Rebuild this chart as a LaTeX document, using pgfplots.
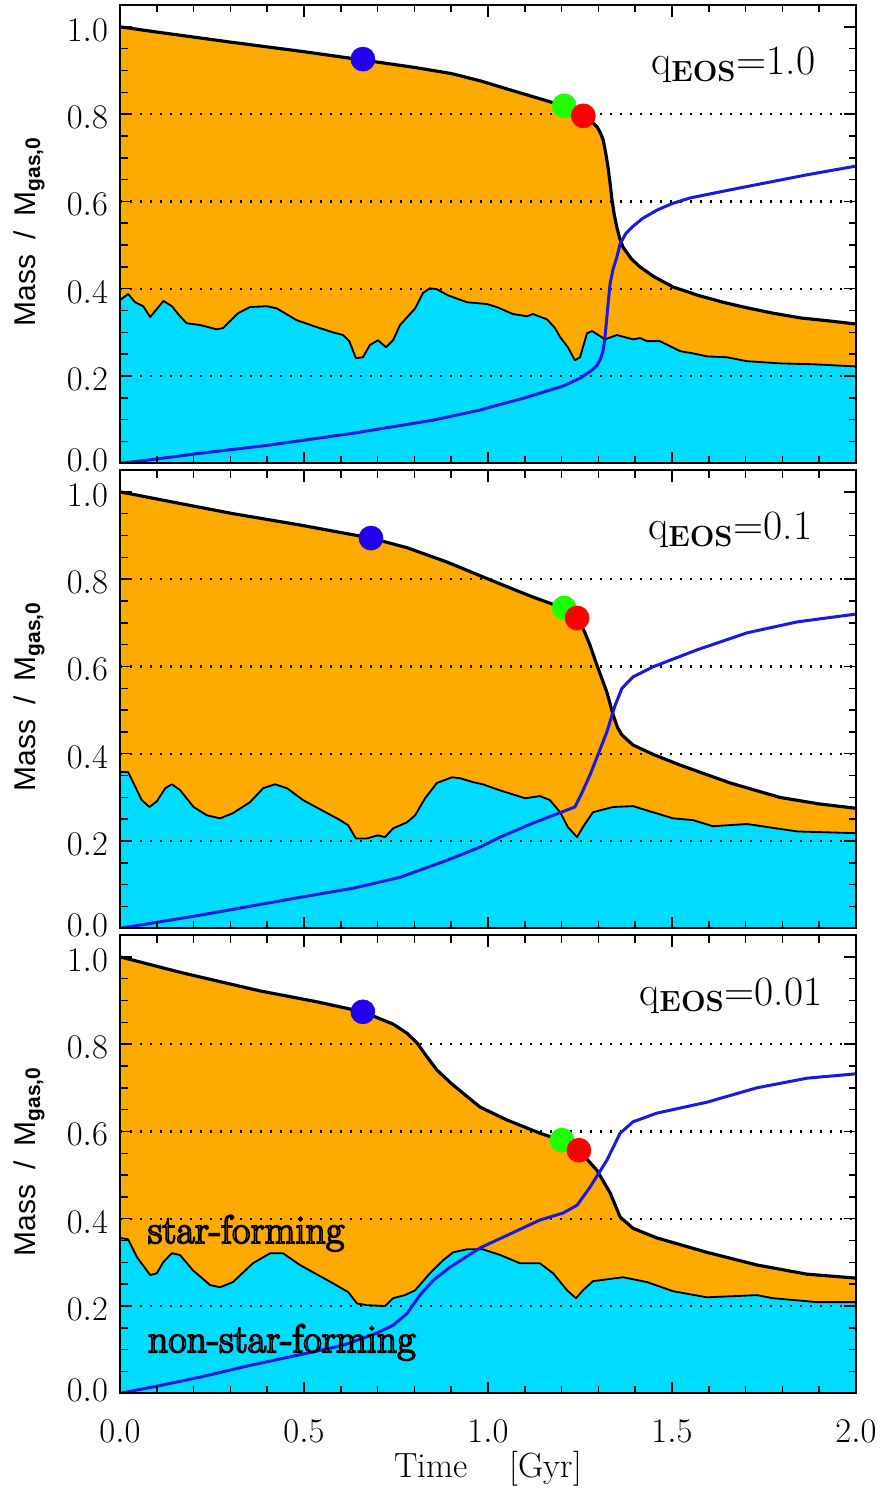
\documentclass[border=0pt]{standalone}
\usepackage{fontspec}
\setsansfont{Liberation Sans}
\usepackage{pgfplots}
\usepackage{pgfplotstable}
\pgfplotsset{compat=1.18}
\definecolor{gasorange}{RGB}{255,170,0}
\definecolor{nsfcyan}{RGB}{0,220,255}
\definecolor{starblue}{RGB}{25,25,230}
\definecolor{dotblue}{RGB}{35,0,235}
\definecolor{dotgreen}{RGB}{30,255,0}
\definecolor{dotred}{RGB}{255,0,0}

% ---------- panel 1 (q_EOS = 1.0)
\pgfplotstableread[row sep=\\]{t m\\
0 1.0\\ 0.1 0.988\\ 0.3 0.965\\ 0.5 0.943\\ 0.66 0.924\\ 0.8 0.907\\ 0.9 0.893\\ 0.98 0.876\\ 1.07 0.853\\ 1.17 0.828\\ 1.207 0.816\\ 1.259 0.795\\ 1.28 0.784\\ 1.296 0.771\\ 1.305 0.758\\ 1.313 0.741\\ 1.32 0.71\\ 1.326 0.679\\ 1.332 0.64\\ 1.337 0.603\\ 1.343 0.57\\ 1.35 0.541\\ 1.358 0.515\\ 1.367 0.495\\ 1.39 0.468\\ 1.413 0.45\\ 1.45 0.428\\ 1.503 0.404\\ 1.57 0.385\\ 1.639 0.369\\ 1.70 0.357\\ 1.774 0.344\\ 1.85 0.333\\ 1.93 0.326\\ 2.0 0.319\\
}\gasA
\pgfplotstableread[row sep=\\]{t m\\
0 0.374\\ 0.022 0.388\\ 0.041 0.369\\ 0.063 0.36\\ 0.082 0.335\\ 0.118 0.372\\ 0.141 0.36\\ 0.163 0.337\\ 0.181 0.321\\ 0.217 0.317\\ 0.263 0.307\\ 0.28 0.31\\ 0.321 0.344\\ 0.353 0.358\\ 0.399 0.36\\ 0.426 0.355\\ 0.48 0.328\\ 0.535 0.312\\ 0.579 0.3\\ 0.606 0.294\\ 0.623 0.28\\ 0.641 0.241\\ 0.66 0.243\\ 0.679 0.271\\ 0.701 0.282\\ 0.723 0.266\\ 0.742 0.282\\ 0.761 0.317\\ 0.802 0.355\\ 0.823 0.39\\ 0.842 0.401\\ 0.861 0.399\\ 0.891 0.385\\ 0.943 0.369\\ 0.97 0.367\\ 0.997 0.365\\ 1.024 0.358\\ 1.068 0.342\\ 1.106 0.337\\ 1.122 0.342\\ 1.16 0.33\\ 1.182 0.31\\ 1.196 0.289\\ 1.217 0.266\\ 1.236 0.236\\ 1.25 0.243\\ 1.269 0.298\\ 1.283 0.303\\ 1.318 0.284\\ 1.35 0.294\\ 1.394 0.284\\ 1.413 0.287\\ 1.432 0.28\\ 1.467 0.28\\ 1.522 0.257\\ 1.557 0.252\\ 1.595 0.245\\ 1.649 0.243\\ 1.704 0.234\\ 1.793 0.229\\ 1.883 0.227\\ 2.0 0.222\\
}\nsfA
\pgfplotstableread[row sep=\\]{t m\\
0 0\\ 0.1 0.01\\ 0.217 0.023\\ 0.399 0.041\\ 0.634 0.069\\ 0.851 0.099\\ 0.978 0.122\\ 1.033 0.135\\ 1.096 0.149\\ 1.204 0.177\\ 1.25 0.195\\ 1.28 0.212\\ 1.296 0.224\\ 1.306 0.24\\ 1.313 0.259\\ 1.318 0.29\\ 1.323 0.335\\ 1.328 0.38\\ 1.332 0.413\\ 1.34 0.445\\ 1.35 0.472\\ 1.359 0.503\\ 1.375 0.527\\ 1.394 0.543\\ 1.42 0.561\\ 1.459 0.58\\ 1.5 0.595\\ 1.549 0.608\\ 1.685 0.631\\ 1.867 0.661\\ 2.0 0.681\\
}\starA

% ---------- panel 2 (q_EOS = 0.1)
\pgfplotstableread[row sep=\\]{t m\\
0 1.0\\ 0.171 0.972\\ 0.307 0.95\\ 0.489 0.924\\ 0.682 0.894\\ 0.78 0.872\\ 0.889 0.839\\ 0.978 0.808\\ 1.033 0.789\\ 1.122 0.759\\ 1.207 0.733\\ 1.242 0.711\\ 1.262 0.68\\ 1.277 0.649\\ 1.296 0.603\\ 1.323 0.541\\ 1.34 0.489\\ 1.352 0.46\\ 1.364 0.443\\ 1.394 0.42\\ 1.45 0.398\\ 1.522 0.374\\ 1.658 0.333\\ 1.793 0.30\\ 1.9 0.285\\ 2.0 0.275\\
}\gasB
\pgfplotstableread[row sep=\\]{t m\\
0 0.358\\ 0.022 0.358\\ 0.059 0.294\\ 0.08 0.278\\ 0.1 0.291\\ 0.123 0.321\\ 0.141 0.33\\ 0.163 0.317\\ 0.2 0.278\\ 0.236 0.259\\ 0.272 0.252\\ 0.307 0.264\\ 0.353 0.289\\ 0.389 0.321\\ 0.421 0.33\\ 0.454 0.321\\ 0.497 0.294\\ 0.563 0.264\\ 0.598 0.248\\ 0.62 0.236\\ 0.641 0.206\\ 0.671 0.206\\ 0.701 0.213\\ 0.72 0.209\\ 0.742 0.229\\ 0.78 0.243\\ 0.802 0.259\\ 0.829 0.298\\ 0.861 0.333\\ 0.902 0.346\\ 0.924 0.344\\ 0.959 0.335\\ 0.986 0.33\\ 1.033 0.316\\ 1.101 0.298\\ 1.141 0.303\\ 1.168 0.294\\ 1.196 0.266\\ 1.217 0.232\\ 1.242 0.209\\ 1.258 0.232\\ 1.285 0.266\\ 1.34 0.278\\ 1.394 0.28\\ 1.448 0.266\\ 1.503 0.252\\ 1.557 0.248\\ 1.611 0.234\\ 1.704 0.239\\ 1.84 0.222\\ 2.0 0.218\\
}\nsfB
\pgfplotstableread[row sep=\\]{t m\\
0 0\\ 0.217 0.03\\ 0.489 0.071\\ 0.634 0.092\\ 0.761 0.117\\ 0.889 0.156\\ 0.978 0.186\\ 1.033 0.209\\ 1.122 0.241\\ 1.236 0.278\\ 1.255 0.31\\ 1.277 0.351\\ 1.3 0.40\\ 1.323 0.45\\ 1.345 0.51\\ 1.364 0.55\\ 1.394 0.576\\ 1.448 0.599\\ 1.568 0.638\\ 1.704 0.677\\ 1.84 0.702\\ 2.0 0.72\\
}\starB

% ---------- panel 3 (q_EOS = 0.01)
\pgfplotstableread[row sep=\\]{t m\\
0 1.0\\ 0.171 0.963\\ 0.38 0.922\\ 0.535 0.897\\ 0.66 0.874\\ 0.742 0.846\\ 0.78 0.825\\ 0.807 0.803\\ 0.835 0.77\\ 0.861 0.741\\ 0.9 0.71\\ 0.978 0.656\\ 1.052 0.626\\ 1.141 0.596\\ 1.201 0.579\\ 1.247 0.557\\ 1.296 0.511\\ 1.332 0.459\\ 1.359 0.404\\ 1.394 0.378\\ 1.459 0.356\\ 1.595 0.323\\ 1.731 0.294\\ 1.867 0.273\\ 2.0 0.264\\
}\gasC
\pgfplotstableread[row sep=\\]{t m\\
0 0.356\\ 0.022 0.353\\ 0.046 0.312\\ 0.082 0.271\\ 0.1 0.275\\ 0.117 0.3\\ 0.141 0.321\\ 0.163 0.317\\ 0.198 0.282\\ 0.245 0.248\\ 0.272 0.243\\ 0.307 0.255\\ 0.361 0.298\\ 0.408 0.321\\ 0.443 0.321\\ 0.489 0.294\\ 0.579 0.252\\ 0.62 0.232\\ 0.644 0.206\\ 0.671 0.202\\ 0.72 0.2\\ 0.742 0.218\\ 0.774 0.225\\ 0.802 0.236\\ 0.842 0.275\\ 0.878 0.305\\ 0.905 0.323\\ 0.943 0.33\\ 0.986 0.33\\ 1.033 0.317\\ 1.087 0.298\\ 1.141 0.298\\ 1.177 0.275\\ 1.215 0.236\\ 1.239 0.218\\ 1.258 0.236\\ 1.285 0.257\\ 1.367 0.266\\ 1.432 0.255\\ 1.503 0.234\\ 1.595 0.22\\ 1.731 0.225\\ 1.774 0.218\\ 1.894 0.209\\ 2.0 0.209\\
}\nsfC
\pgfplotstableread[row sep=\\]{t m\\
0 0\\ 0.109 0.018\\ 0.217 0.037\\ 0.353 0.064\\ 0.508 0.092\\ 0.606 0.11\\ 0.698 0.138\\ 0.742 0.156\\ 0.78 0.183\\ 0.815 0.225\\ 0.851 0.259\\ 0.897 0.289\\ 0.978 0.333\\ 1.052 0.362\\ 1.141 0.397\\ 1.204 0.413\\ 1.242 0.431\\ 1.277 0.472\\ 1.323 0.534\\ 1.359 0.596\\ 1.394 0.622\\ 1.459 0.642\\ 1.595 0.667\\ 1.731 0.70\\ 1.867 0.722\\ 2.0 0.732\\
}\starC

\pgfplotsset{panel/.style={
  width=441.6pt, height=275pt, scale only axis,
  anchor=north west,
  xmin=0, xmax=2, ymin=0, ymax=1.05,
  xtick={0,0.5,1,1.5,2}, minor x tick num=4,
  ytick={0,0.2,0.4,0.6,0.8,1.0}, minor y tick num=3,
  yticklabels={\raisebox{7pt}{$0.0$},$0.2$,$0.4$,$0.6$,$0.8$,$1.0$},
  tick align=inside, tick pos=both,
  major tick length=7pt, minor tick length=4.5pt,
  every tick/.style={black, line width=0.9pt},
  axis line style={line width=1.2pt},
  axis on top,
  /pgf/number format/fixed,
  /pgf/number format/fixed zerofill,
  /pgf/number format/precision=1,
  tick label style={font=\fontsize{21}{23}\selectfont},
  yticklabel style={inner sep=0.5pt, xshift=-6.5pt, yshift=-2pt},
  xticklabel style={yshift=-12.5pt},
}}
\pgfplotsset{
  gasfill/.style={fill=gasorange, draw=none, forget plot},
  nsffill/.style={fill=nsfcyan, draw=none, forget plot},
  gasline/.style={black, line width=1.9pt, line join=round},
  nsfline/.style={black, line width=1.1pt, line join=round},
  starline/.style={starblue, line width=1.8pt, line join=round},
  dotgrid/.style={black, line width=1.3pt, dash pattern=on 1.3pt off 4.7pt},
  bigdot/.style={only marks, mark=*, mark size=7.2pt},
}
\newcommand{\gridlines}{%
  \addplot[dotgrid] coordinates {(0,0.2) (2,0.2)};
  \addplot[dotgrid] coordinates {(0,0.4) (2,0.4)};
  \addplot[dotgrid] coordinates {(0,0.6) (2,0.6)};
  \addplot[dotgrid] coordinates {(0,0.8) (2,0.8)};
}
\newcommand{\qlabel}[1]{\fontsize{25}{27}\selectfont q\textsubscript{\textbf{EOS}}=#1}
% outlined text: filled with the area colour, stroked in black (PDF text render mode 2)
\newcommand{\outlinedtext}[3]{%
  \node[anchor=base west, inner sep=0pt, text=#2] at #1 {\fontsize{24}{26}\selectfont
    \special{pdf:literal direct 0 0 0 RG 2 Tr 1.0 w}#3\special{pdf:literal direct 0 Tr}};}
\newcommand{\ylab}{\fontsize{18}{20}\selectfont\sffamily Mass\hspace{0.5em}/\hspace{0.5em}M\textsubscript{\bfseries gas,0}}

\begin{document}
\begin{tikzpicture}
\path[use as bounding box] (0,0) rectangle (529.8pt,-892.8pt);

% ===== panel 1
\begin{axis}[panel, at={(72pt,-3pt)}, xticklabels={}]
\addplot[gasfill] table {\gasA} \closedcycle;
\addplot[nsffill] table {\nsfA} \closedcycle;
\addplot[nsfline] table {\nsfA};
\addplot[gasline] table {\gasA};
\gridlines
\addplot[starline] table {\starA};
\addplot[bigdot, dotblue] coordinates {(0.66,0.926)};
\addplot[bigdot, dotgreen] coordinates {(1.207,0.819)};
\addplot[bigdot, dotred] coordinates {(1.259,0.796)};
\node[anchor=base] at (axis cs:1.666,0.89) {\qlabel{1.0}};
\end{axis}

% ===== panel 2
\begin{axis}[panel, at={(72pt,-282pt)}, xticklabels={}]
\addplot[gasfill] table {\gasB} \closedcycle;
\addplot[nsffill] table {\nsfB} \closedcycle;
\addplot[nsfline] table {\nsfB};
\addplot[gasline] table {\gasB};
\gridlines
\addplot[starline] table {\starB};
\addplot[bigdot, dotblue] coordinates {(0.682,0.894)};
\addplot[bigdot, dotgreen] coordinates {(1.207,0.734)};
\addplot[bigdot, dotred] coordinates {(1.242,0.711)};
\node[anchor=base] at (axis cs:1.658,0.89) {\qlabel{0.1}};
\end{axis}

% ===== panel 3
\begin{axis}[panel, at={(72pt,-561pt)}]
\addplot[gasfill] table {\gasC} \closedcycle;
\addplot[nsffill] table {\nsfC} \closedcycle;
\addplot[nsfline] table {\nsfC};
\addplot[gasline] table {\gasC};
\gridlines
\addplot[starline] table {\starC};
\addplot[bigdot, dotblue] coordinates {(0.66,0.874)};
\addplot[bigdot, dotgreen] coordinates {(1.201,0.58)};
\addplot[bigdot, dotred] coordinates {(1.247,0.557)};
\node[anchor=base] at (axis cs:1.66,0.888) {\qlabel{0.01}};
\outlinedtext{(axis cs:0.075,0.344)}{gasorange}{star-forming}
\outlinedtext{(axis cs:0.075,0.094)}{nsfcyan}{non-star-forming}
\end{axis}

% axis descriptions
\node[rotate=90] at (17.4pt,-139pt) {\ylab};
\node[rotate=90] at (17.4pt,-418pt) {\ylab};
\node[rotate=90] at (17.4pt,-697pt) {\ylab};
\node at (292.8pt,-881pt) {\fontsize{21}{24}\selectfont Time\hspace{1.2em}[Gyr]};
\end{tikzpicture}
\end{document}
